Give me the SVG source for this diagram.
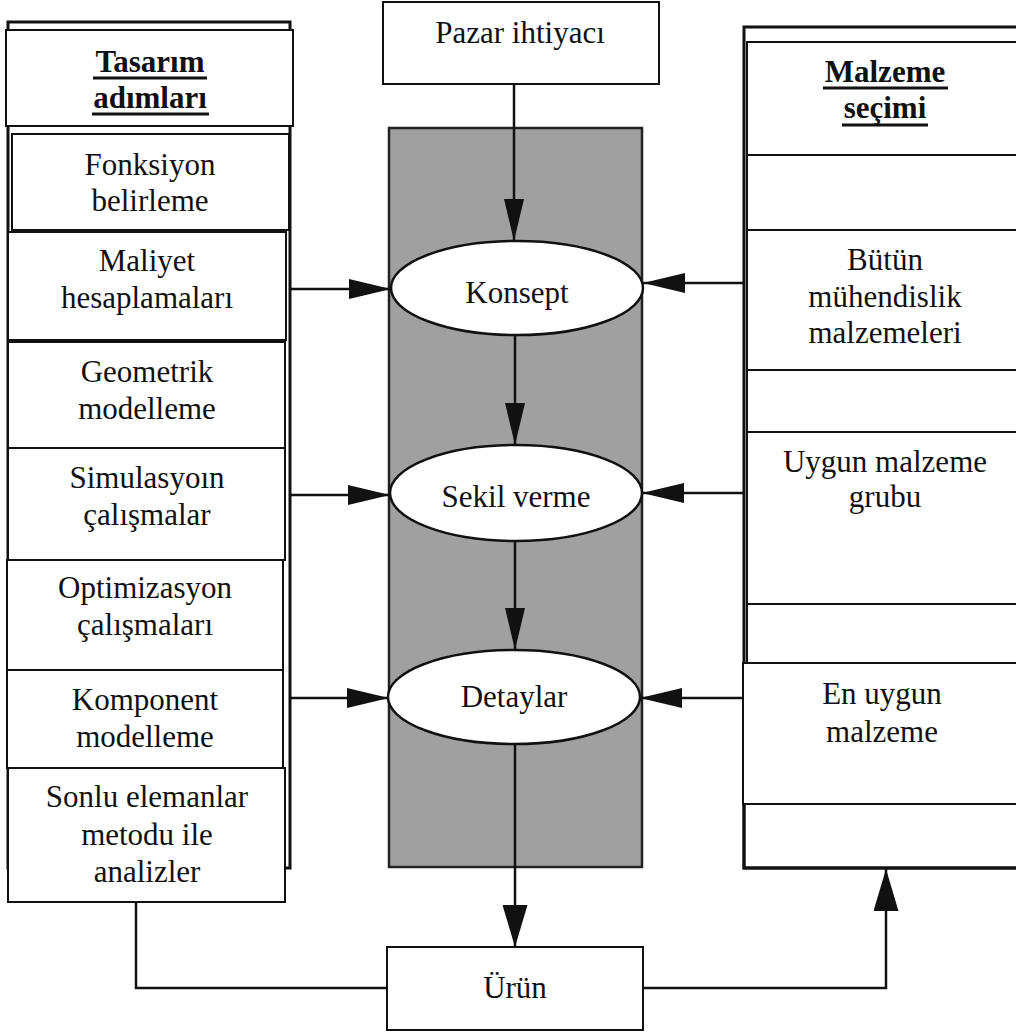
<svg xmlns="http://www.w3.org/2000/svg" width="1016" height="1036" viewBox="0 0 1016 1036">
  <defs>
    <style>
      .box { fill: #ffffff; stroke: #111111; stroke-width: 2; }
      .frame { fill: none; stroke: #111111; stroke-width: 3; }
      .ell { fill: #ffffff; stroke: #111111; stroke-width: 2.5; }
      .band { fill: #a0a0a0; stroke: #222222; stroke-width: 2.5; }
      .lbl { font-family: "Liberation Serif", "Times New Roman", serif; font-size: 31px; fill: #111111; text-anchor: middle; }
      .hdr { font-family: "Liberation Serif", "Times New Roman", serif; font-size: 31px; font-weight: bold; fill: #111111; text-anchor: middle; }
      .ul { stroke: #111111; stroke-width: 3; }
      .wire { fill: none; stroke: #111111; stroke-width: 2.5; }
    </style>
    <marker id="arr" markerUnits="userSpaceOnUse" markerWidth="42" markerHeight="20" refX="42" refY="10" orient="auto" viewBox="0 0 42 20">
      <path d="M0,0 L42,10 L0,20 Z" fill="#111111"/>
    </marker>
    <marker id="arrBig" markerUnits="userSpaceOnUse" markerWidth="42" markerHeight="25" refX="42" refY="12.5" orient="auto" viewBox="0 0 42 25">
      <path d="M0,0 L42,12.5 L0,25 Z" fill="#111111"/>
    </marker>
  </defs>

  <rect width="1016" height="1036" fill="#ffffff"/>

  <!-- central process band -->
  <rect id="band" class="band" x="389" y="128" width="253" height="739"/>

  <!-- left column: design steps -->
  <g id="design-steps">
    <rect class="frame" x="8" y="22" width="282" height="846"/>
    <g id="hdr-left">
      <rect class="box" x="6" y="30" width="287" height="96"/>
      <text class="hdr" x="150" y="72">Tasarım</text>
      <text class="hdr" x="150" y="108">adımları</text>
      <line class="ul" x1="93" y1="78" x2="207" y2="78"/>
      <line class="ul" x1="92" y1="114" x2="209" y2="114"/>
    </g>
    <g id="step-fonksiyon">
      <rect class="box" x="12" y="134" width="277" height="96"/>
      <text class="lbl" x="150" y="175">Fonksiyon</text>
      <text class="lbl" x="150" y="211">belirleme</text>
    </g>
    <g id="step-maliyet">
      <rect class="box" x="8" y="232" width="278" height="108"/>
      <text class="lbl" x="147" y="271">Maliyet</text>
      <text class="lbl" x="147" y="308">hesaplamaları</text>
    </g>
    <g id="step-geometrik">
      <rect class="box" x="8" y="342" width="277" height="106"/>
      <text class="lbl" x="147" y="382">Geometrik</text>
      <text class="lbl" x="147" y="419">modelleme</text>
    </g>
    <g id="step-simulasyon">
      <rect class="box" x="8" y="448" width="277" height="112"/>
      <text class="lbl" x="147" y="488">Simulasyoın</text>
      <text class="lbl" x="147" y="525">çalışmalar</text>
    </g>
    <g id="step-optimizasyon">
      <rect class="box" x="7" y="560" width="276" height="110"/>
      <text class="lbl" x="145" y="598">Optimizasyon</text>
      <text class="lbl" x="145" y="635">çalışmaları</text>
    </g>
    <g id="step-komponent">
      <rect class="box" x="7" y="670" width="276" height="98"/>
      <text class="lbl" x="145" y="710">Komponent</text>
      <text class="lbl" x="145" y="747">modelleme</text>
    </g>
    <g id="step-sonlu">
      <rect class="box" x="8" y="768" width="277" height="134"/>
      <text class="lbl" x="147" y="807">Sonlu elemanlar</text>
      <text class="lbl" x="147" y="845">metodu ile</text>
      <text class="lbl" x="147" y="882">analizler</text>
    </g>
  </g>

  <!-- right column: material selection -->
  <g id="material-selection">
    <path class="frame" d="M1030,27 H744 V868 H1030"/>
    <g id="hdr-right">
      <rect class="box" x="747" y="42" width="290" height="113"/>
      <text class="hdr" x="885" y="82">Malzeme</text>
      <text class="hdr" x="885" y="118">seçimi</text>
      <line class="ul" x1="823" y1="88" x2="948" y2="88"/>
      <line class="ul" x1="842" y1="125" x2="928" y2="125"/>
    </g>
    <rect class="box" x="747" y="155" width="290" height="75"/>
    <g id="mat-all">
      <rect class="box" x="747" y="230" width="290" height="140"/>
      <text class="lbl" x="885" y="270">Bütün</text>
      <text class="lbl" x="885" y="307">mühendislik</text>
      <text class="lbl" x="885" y="343">malzemeleri</text>
    </g>
    <rect class="box" x="747" y="370" width="290" height="62"/>
    <g id="mat-group">
      <rect class="box" x="747" y="432" width="290" height="172"/>
      <text class="lbl" x="885" y="472">Uygun malzeme</text>
      <text class="lbl" x="885" y="507">grubu</text>
    </g>
    <rect class="box" x="747" y="604" width="290" height="59"/>
    <g id="mat-best">
      <rect class="box" x="743" y="663" width="294" height="141"/>
      <text class="lbl" x="882" y="704">En uygun</text>
      <text class="lbl" x="882" y="742">malzeme</text>
    </g>
    <path class="frame" d="M744,804 V868 H1030"/>
  </g>

  <!-- market need -->
  <g id="market-need">
    <rect class="box" x="383" y="2" width="276" height="82"/>
    <text class="lbl" x="520" y="43">Pazar ihtiyacı</text>
  </g>

  <!-- connectors -->
  <g id="connectors">
    <line class="wire" x1="514" y1="84" x2="514" y2="241" marker-end="url(#arr)"/>
    <line class="wire" x1="515" y1="335" x2="515" y2="445" marker-end="url(#arr)"/>
    <line class="wire" x1="515" y1="541" x2="515" y2="650" marker-end="url(#arr)"/>
    <line class="wire" x1="515" y1="744" x2="515" y2="947" marker-end="url(#arrBig)"/>

    <line class="wire" x1="290" y1="289" x2="391" y2="289" marker-end="url(#arr)"/>
    <line class="wire" x1="290" y1="495" x2="390" y2="495" marker-end="url(#arr)"/>
    <line class="wire" x1="290" y1="698" x2="389" y2="698" marker-end="url(#arr)"/>

    <line class="wire" x1="744" y1="283" x2="643" y2="283" marker-end="url(#arr)"/>
    <line class="wire" x1="744" y1="493" x2="642" y2="493" marker-end="url(#arr)"/>
    <line class="wire" x1="744" y1="698" x2="640" y2="698" marker-end="url(#arr)"/>

    <path class="wire" d="M387,988 H136 V902"/>
    <path class="wire" d="M643,988 H886 V869" marker-end="url(#arrBig)"/>
  </g>

  <!-- process stages -->
  <g id="stage-konsept">
    <ellipse class="ell" cx="517" cy="288" rx="126" ry="47"/>
    <text class="lbl" x="517" y="303">Konsept</text>
  </g>
  <g id="stage-sekil">
    <ellipse class="ell" cx="516" cy="493" rx="126" ry="48"/>
    <text class="lbl" x="516" y="507">Sekil verme</text>
  </g>
  <g id="stage-detay">
    <ellipse class="ell" cx="514" cy="697" rx="126" ry="47"/>
    <text class="lbl" x="514" y="707">Detaylar</text>
  </g>

  <!-- product -->
  <g id="product">
    <rect class="box" x="387" y="947" width="256" height="83"/>
    <text class="lbl" x="515" y="998">Ürün</text>
  </g>
</svg>
